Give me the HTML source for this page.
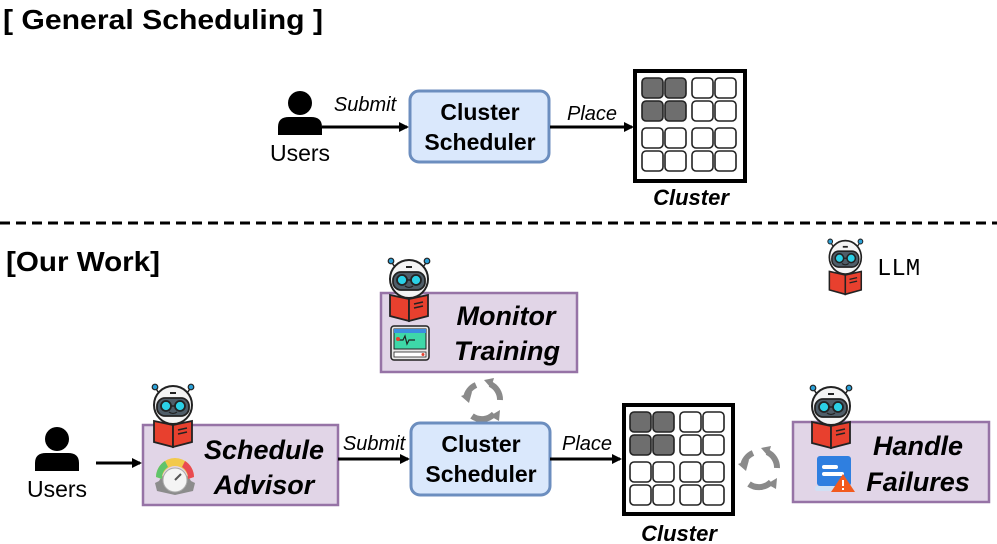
<!DOCTYPE html>
<html><head><meta charset="utf-8"><style>
html,body{margin:0;padding:0;background:#fff}
svg{display:block}
text{font-family:"Liberation Sans",sans-serif}
text.mono{font-family:"Liberation Mono",monospace}
</style></head><body>
<svg width="997" height="544" viewBox="0 0 997 544" xmlns="http://www.w3.org/2000/svg">
<defs>
<marker id="ah" markerWidth="10" markerHeight="10" refX="8" refY="5" orient="auto" markerUnits="userSpaceOnUse">
<path d="M0,0 L10,5 L0,10 Z" fill="#000"/></marker>
<g id="robot">
<line x1="5" y1="4" x2="10" y2="12" stroke="#222" stroke-width="1.5"/>
<line x1="41" y1="4" x2="36" y2="12" stroke="#222" stroke-width="1.5"/>
<circle cx="5" cy="4" r="2.8" fill="#2a9fd6" stroke="#222" stroke-width="1.2"/>
<circle cx="41" cy="4" r="2.8" fill="#2a9fd6" stroke="#222" stroke-width="1.2"/>
<circle cx="23" cy="22" r="19" fill="#f4f4f4" stroke="#222" stroke-width="2"/>
<rect x="20" y="9" width="6" height="2" fill="#222"/>
<rect x="7" y="15" width="32" height="18" rx="8" fill="#4f5d68" stroke="#222" stroke-width="1.8"/>
<circle cx="16" cy="23" r="5" fill="#2bd0e6" stroke="#222" stroke-width="1.8"/>
<circle cx="30" cy="23" r="5" fill="#2bd0e6" stroke="#222" stroke-width="1.8"/>
<line x1="21" y1="23" x2="25" y2="23" stroke="#222" stroke-width="1.5"/>
<path d="M19,29 Q23,32 27,29" fill="none" stroke="#222" stroke-width="1.3"/>
<path d="M4,38 L23,42 L23,64 L4,59 Z" fill="#e8402e" stroke="#222" stroke-width="1.8"/>
<path d="M23,42 L42,38 L42,59 L23,64 Z" fill="#e8402e" stroke="#222" stroke-width="1.8"/>
<line x1="28" y1="47" x2="37" y2="45" stroke="#222" stroke-width="1.5"/>
<line x1="28" y1="51" x2="37" y2="49" stroke="#222" stroke-width="1.5"/>
</g>
<g id="user">
<circle cx="22" cy="12" r="12" fill="#000"/>
<path d="M0,44 L0,36 Q0,26 11,26 L33,26 Q44,26 44,36 L44,44 Z" fill="#000"/>
</g>
<g id="cycle" fill="none" stroke="#8a8a8a" stroke-width="6">
<path d="M6,20 A17,17 0 0 1 16,7"/>
<path d="M30,6 A17,17 0 0 1 40,22"/>
<path d="M34,36 A17,17 0 0 1 12,38"/>
<path d="M1,18 L9,25 L12,14 Z" fill="#8a8a8a" stroke="none"/>
<path d="M24,2 L34,0 L31,10 Z" fill="#8a8a8a" stroke="none"/>
<path d="M40,32 L39,43 L30,38 Z" fill="#8a8a8a" stroke="none"/>
</g>
<g id="cells" stroke="#222" stroke-width="1.6">
<rect x="8" y="9" width="21" height="20" rx="4" fill="#6e6e6e"/>
<rect x="31" y="9" width="21" height="20" rx="4" fill="#6e6e6e"/>
<rect x="8" y="32" width="21" height="20" rx="4" fill="#6e6e6e"/>
<rect x="31" y="32" width="21" height="20" rx="4" fill="#6e6e6e"/>
<rect x="58" y="9" width="21" height="20" rx="4" fill="#fff"/>
<rect x="81" y="9" width="21" height="20" rx="4" fill="#fff"/>
<rect x="58" y="32" width="21" height="20" rx="4" fill="#fff"/>
<rect x="81" y="32" width="21" height="20" rx="4" fill="#fff"/>
<rect x="8" y="59" width="21" height="20" rx="4" fill="#fff"/>
<rect x="31" y="59" width="21" height="20" rx="4" fill="#fff"/>
<rect x="8" y="82" width="21" height="20" rx="4" fill="#fff"/>
<rect x="31" y="82" width="21" height="20" rx="4" fill="#fff"/>
<rect x="58" y="59" width="21" height="20" rx="4" fill="#fff"/>
<rect x="81" y="59" width="21" height="20" rx="4" fill="#fff"/>
<rect x="58" y="82" width="21" height="20" rx="4" fill="#fff"/>
<rect x="81" y="82" width="21" height="20" rx="4" fill="#fff"/>
</g>
</defs>

<text x="3" y="29" font-size="28" font-weight="bold" textLength="320" lengthAdjust="spacingAndGlyphs">[ General Scheduling ]</text>
<use href="#user" x="278" y="91"/>
<text x="300" y="161" font-size="23" text-anchor="middle">Users</text>
<line x1="322" y1="127" x2="407" y2="127" stroke="#000" stroke-width="3" marker-end="url(#ah)"/>
<text x="365" y="111" font-size="20" font-style="italic" text-anchor="middle">Submit</text>
<rect x="410" y="91" width="139" height="71" rx="9" fill="#dae8fc" stroke="#6c8ebf" stroke-width="3"/>
<text x="480" y="120" font-size="23" font-weight="bold" text-anchor="middle">Cluster</text>
<text x="480" y="150" font-size="23" font-weight="bold" text-anchor="middle">Scheduler</text>
<line x1="550" y1="127" x2="632" y2="127" stroke="#000" stroke-width="3" marker-end="url(#ah)"/>
<text x="592" y="120" font-size="20" font-style="italic" text-anchor="middle">Place</text>
<rect x="635" y="71" width="110" height="110" fill="#fff" stroke="#000" stroke-width="4"/>
<use href="#cells" x="634" y="69"/>
<text x="691" y="205" font-size="22" font-weight="bold" font-style="italic" text-anchor="middle">Cluster</text>

<line x1="0" y1="223" x2="997" y2="223" stroke="#000" stroke-width="3" stroke-dasharray="10,6"/>

<text x="6" y="271" font-size="28" font-weight="bold" textLength="154" lengthAdjust="spacingAndGlyphs">[Our Work]</text>
<use href="#robot" transform="translate(826,238) scale(0.84,0.88)"/>
<text x="877" y="275" font-size="24" class="mono">LLM</text>

<rect x="381" y="293" width="196" height="79" fill="#e1d5e7" stroke="#9673a6" stroke-width="2.5"/>
<use href="#robot" x="386" y="257"/>
<g transform="translate(390,326)">
<rect x="1" y="0" width="38" height="34" rx="3" fill="#e8e8e8" stroke="#222" stroke-width="1.5"/>
<rect x="4" y="3" width="32" height="20" fill="#3ed8a8" stroke="#222" stroke-width="1"/>
<rect x="4" y="3" width="32" height="4" fill="#3b8ee0"/>
<path d="M7,14 L13,14 L15,10 L17,18 L19,14 L25,14" fill="none" stroke="#222" stroke-width="1.2"/>
<circle cx="8" cy="13" r="2" fill="#e8402e"/>
<rect x="4" y="26" width="32" height="5" fill="#fff" stroke="#222" stroke-width="0.8"/>
<circle cx="33" cy="28.5" r="1.5" fill="#e8402e"/>
</g>
<text x="506" y="325" font-size="27" font-weight="bold" font-style="italic" text-anchor="middle">Monitor</text>
<text x="507" y="360" font-size="27" font-weight="bold" font-style="italic" text-anchor="middle">Training</text>
<use href="#cycle" x="460" y="378"/>

<use href="#user" x="35" y="427"/>
<text x="57" y="497" font-size="23" text-anchor="middle">Users</text>
<line x1="96" y1="463" x2="140" y2="463" stroke="#000" stroke-width="3" marker-end="url(#ah)"/>

<rect x="143" y="425" width="195" height="80" fill="#e1d5e7" stroke="#9673a6" stroke-width="2.5"/>
<use href="#robot" x="150" y="383"/>
<g transform="translate(153,455)">
<path d="M22,40 L4,36 L2,28 L6,26 A18,18 0 0 1 38,26 L42,28 L40,36 Z" fill="#8c8c8c"/>
<path d="M3,22 A19,19 0 0 1 41,22 L35,24 A13,13 0 0 0 9,24 Z" fill="#f2c94c"/>
<path d="M3,22 A19,19 0 0 1 12,6 L15,12 A13,13 0 0 0 9,24 Z" fill="#5fc46b"/>
<path d="M32,6 A19,19 0 0 1 41,22 L35,24 A13,13 0 0 0 29,12 Z" fill="#e94a52"/>
<circle cx="22" cy="25" r="12" fill="#f4f4f4" stroke="#aaa" stroke-width="1"/>
<line x1="22" y1="25" x2="28" y2="19" stroke="#555" stroke-width="2"/>
</g>
<text x="264" y="459" font-size="27" font-weight="bold" font-style="italic" text-anchor="middle">Schedule</text>
<text x="264" y="494" font-size="27" font-weight="bold" font-style="italic" text-anchor="middle">Advisor</text>

<line x1="338" y1="459" x2="408" y2="459" stroke="#000" stroke-width="3" marker-end="url(#ah)"/>
<text x="374" y="450" font-size="20" font-style="italic" text-anchor="middle">Submit</text>
<rect x="411" y="423" width="139" height="72" rx="9" fill="#dae8fc" stroke="#6c8ebf" stroke-width="3"/>
<text x="481" y="452" font-size="23" font-weight="bold" text-anchor="middle">Cluster</text>
<text x="481" y="482" font-size="23" font-weight="bold" text-anchor="middle">Scheduler</text>
<line x1="550" y1="459" x2="620" y2="459" stroke="#000" stroke-width="3" marker-end="url(#ah)"/>
<text x="587" y="450" font-size="20" font-style="italic" text-anchor="middle">Place</text>
<rect x="624" y="405" width="109" height="109" fill="#fff" stroke="#000" stroke-width="4"/>
<use href="#cells" x="622" y="403"/>
<text x="679" y="541" font-size="22" font-weight="bold" font-style="italic" text-anchor="middle">Cluster</text>
<use href="#cycle" x="737" y="446"/>

<rect x="793" y="422" width="196" height="80" fill="#e1d5e7" stroke="#9673a6" stroke-width="2.5"/>
<use href="#robot" x="808" y="384"/>
<g transform="translate(815,456)">
<rect x="2" y="0" width="34" height="30" rx="3" fill="#2f7fe0"/>
<rect x="7" y="9" width="16" height="4" rx="2" fill="#fff"/>
<rect x="7" y="16" width="22" height="4" rx="2" fill="#fff"/>
<rect x="0" y="30" width="38" height="5" rx="2" fill="#cfe0f5"/>
<path d="M28,18 L40,36 L16,36 Z" fill="#f25a1e"/>
<rect x="27" y="24" width="2" height="6" fill="#fff"/>
<rect x="27" y="32" width="2" height="2" fill="#fff"/>
</g>
<text x="918" y="455" font-size="27" font-weight="bold" font-style="italic" text-anchor="middle">Handle</text>
<text x="918" y="491" font-size="27" font-weight="bold" font-style="italic" text-anchor="middle">Failures</text>
</svg>
</body></html>
